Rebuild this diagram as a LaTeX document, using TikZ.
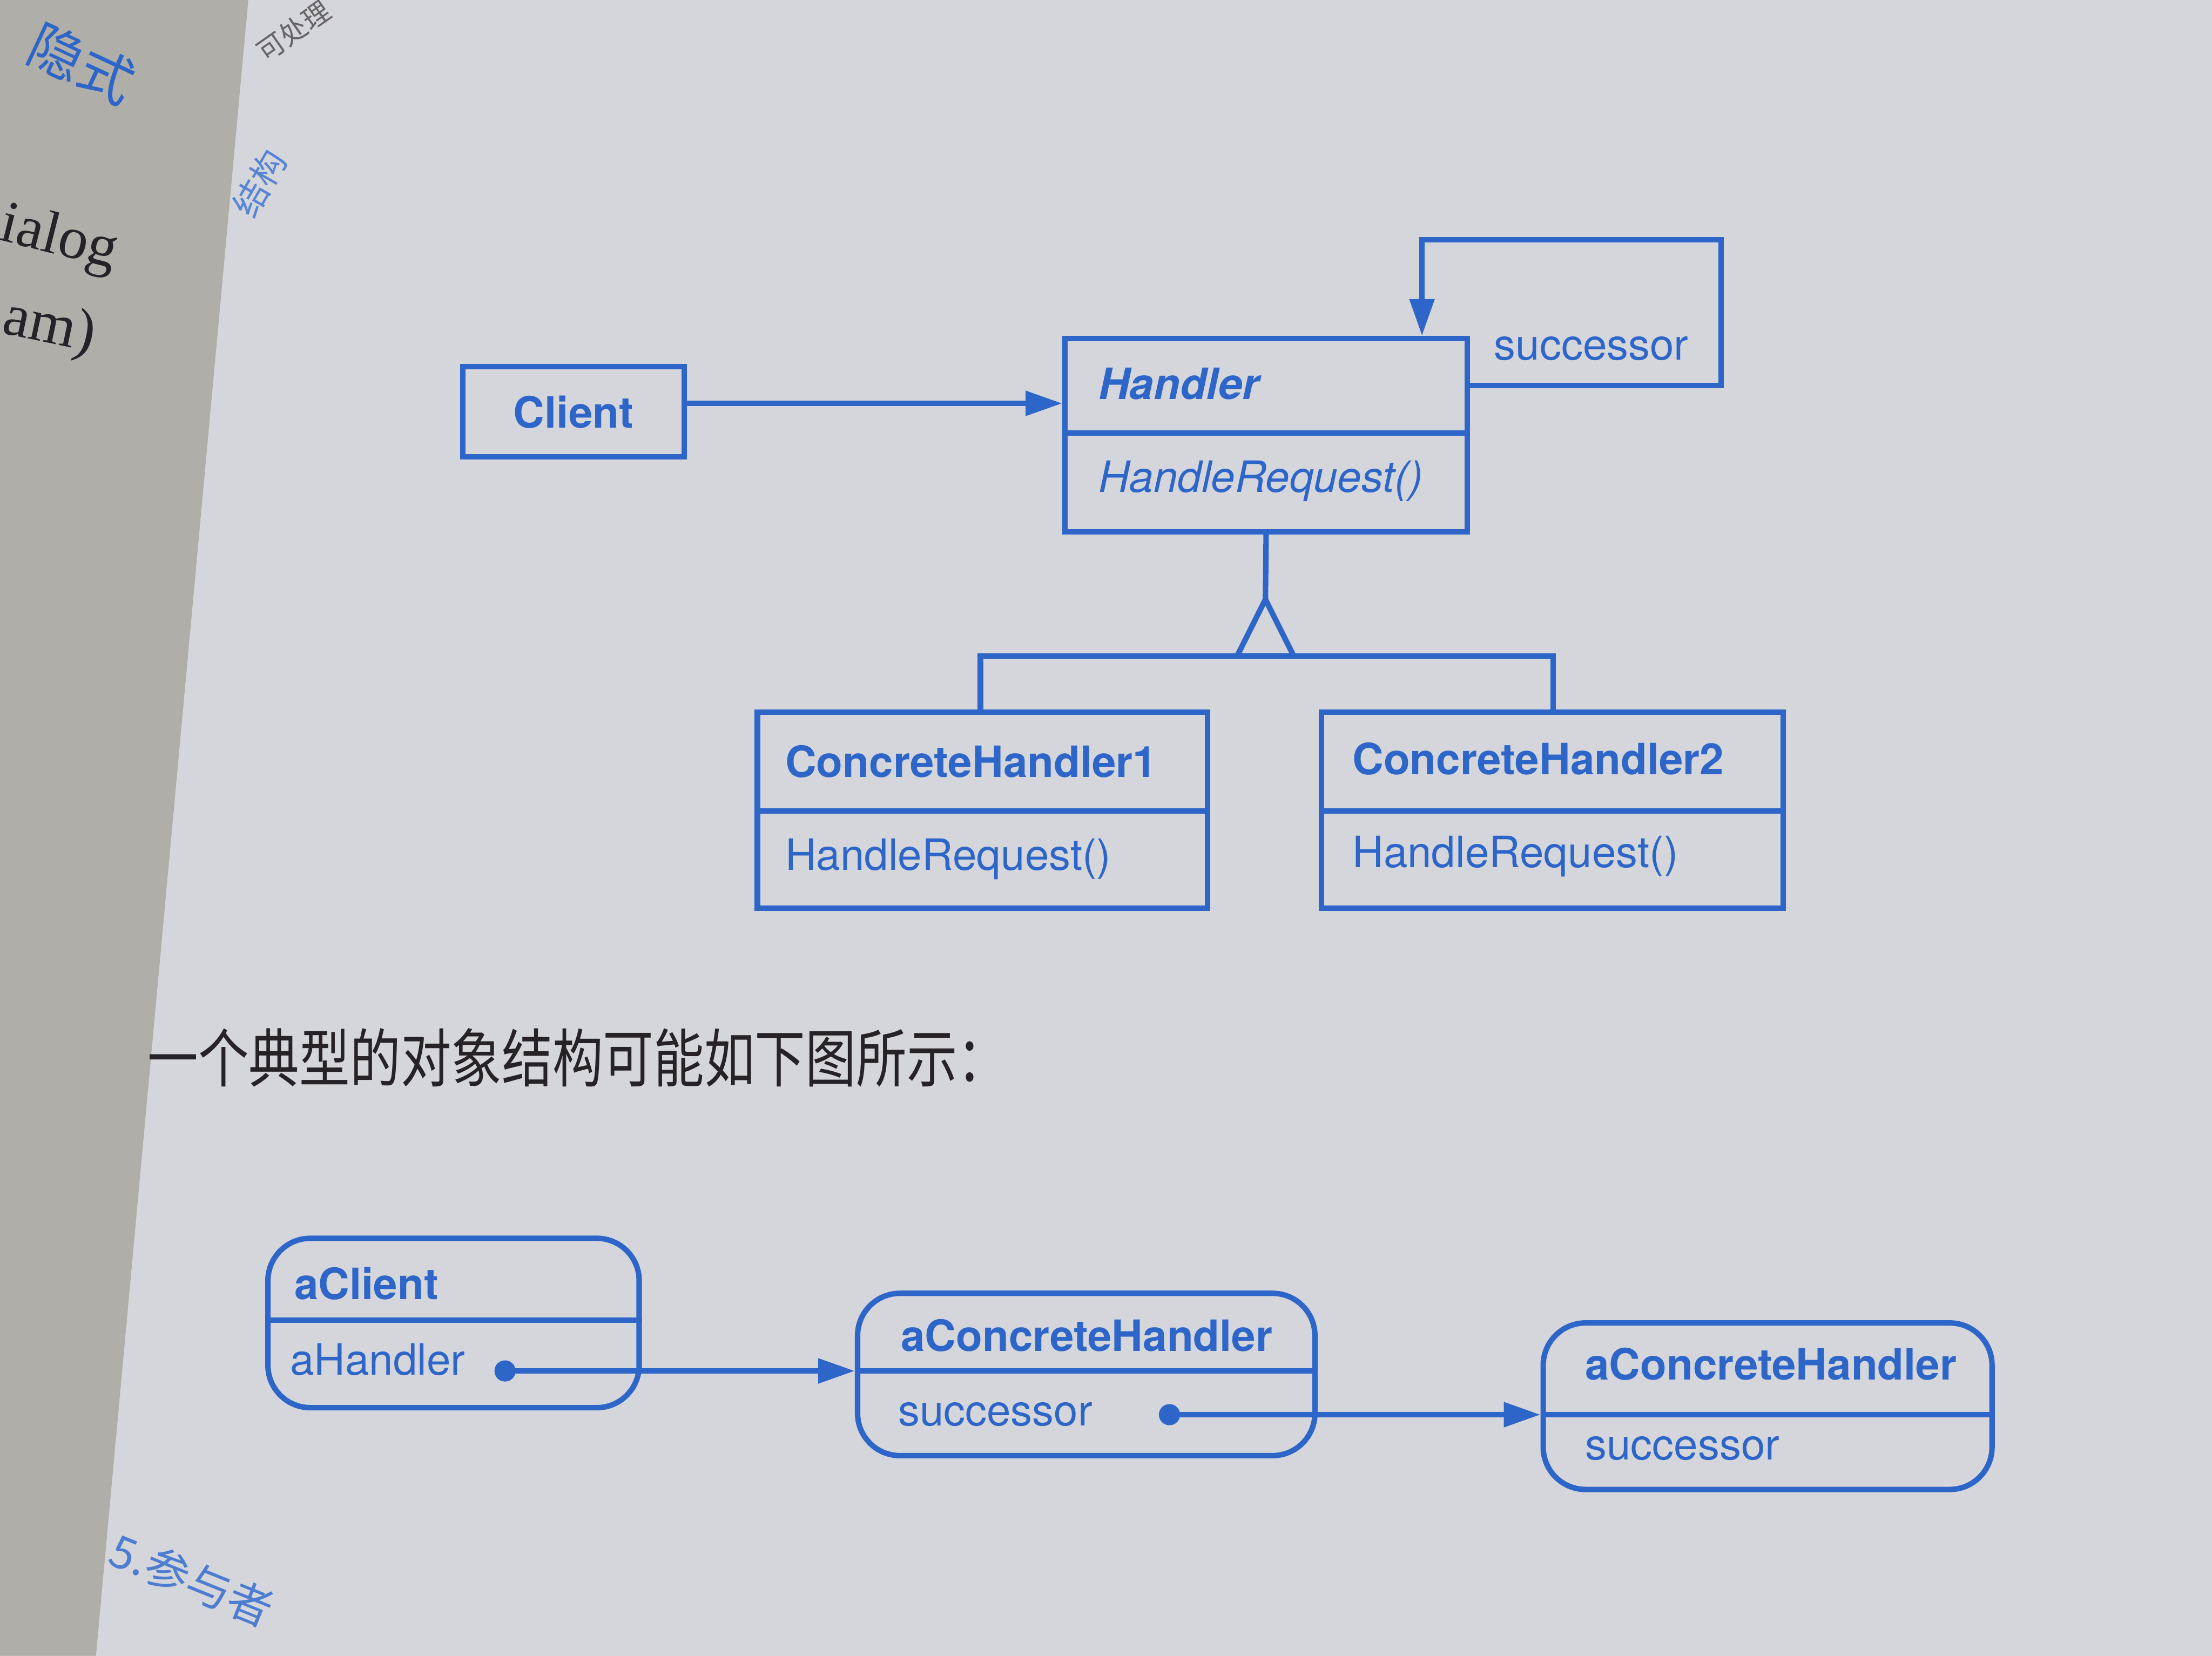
\documentclass[tikz,border=0pt]{standalone}
\usepackage{fontspec}
\newfontfamily\hv{TeX Gyre Heros}
\newfontfamily\cjk{Noto Sans CJK SC}
\newfontfamily\serifL{Liberation Serif}
\usetikzlibrary{arrows.meta,calc}
\definecolor{paper}{RGB}{212,214,219}
\definecolor{leftpage}{RGB}{176,174,168}
\definecolor{ink}{RGB}{45,102,200}
\definecolor{txt}{RGB}{38,34,40}
\begin{document}
\begin{tikzpicture}[x=0.01cm,y=-0.01cm,
  cls/.style={draw=ink, line width=1.1pt, inner sep=0pt, rectangle},
  obj/.style={draw=ink, line width=1.1pt, inner sep=0pt, rounded corners=0.3cm},
  conn/.style={draw=ink, line width=1.1pt},
  arr/.style={conn, -{Triangle[length=0.26cm,width=0.17cm]}},
  lbl/.style={text=ink, inner sep=0pt, anchor=west, font=\hv\fontsize{8.7}{10}\selectfont},
  lblb/.style={lbl, font=\hv\bfseries\fontsize{8.7}{10}\selectfont},
  lbli/.style={lbl, font=\hv\itshape\fontsize{8.7}{10}\selectfont},
  lblbi/.style={lbl, font=\hv\bfseries\itshape\fontsize{8.7}{10}\selectfont},
  dotst/.style={circle, fill=ink, inner sep=0pt, minimum size=0.15cm},
]
% page background
\fill[paper] (0,0) rectangle (1568,1174);
\useasboundingbox (0,0) rectangle (1568,1174);
\fill[leftpage] (0,0) -- (176,0) -- (68,1174) -- (0,1174) -- cycle;

% left page fragments
\node[font=\cjk\fontsize{11}{12}\selectfont, text=ink, rotate=-25] (lp1) at (58,45) {隐式};
\node[font=\serifL\fontsize{12}{14}\selectfont, text=txt, rotate=-14, anchor=west, inner sep=0pt] (lp2) at (0,160) {ialog};
\node[font=\serifL\fontsize{12}{14}\selectfont, text=txt, rotate=-12, anchor=west, inner sep=0pt] (lp3) at (2,226) {am)};

% right page fragments
\node[font=\cjk\fontsize{5.5}{7}\selectfont, text=txt!70, rotate=35, inner sep=0pt] (rp1) at (208,22) {可处理};
\node[font=\cjk\fontsize{7}{8}\selectfont, text=ink!80, rotate=60, inner sep=0pt] (rp2) at (184,130) {结构};
\node[font=\cjk\fontsize{9}{10}\selectfont, text=ink!85, rotate=-22, inner sep=0pt] (rp3) at (136,1120) {5.参与者};

% ---------- class diagram ----------
\node[cls, minimum width=1.57cm, minimum height=0.64cm, text=ink,
      font=\hv\bfseries\fontsize{8.7}{10}\selectfont] (client) at (406.5,292) {Client};

\node[cls, minimum width=2.85cm, minimum height=0.67cm] (htop) at (897.5,273.5) {};
\node[cls, minimum width=2.85cm, minimum height=0.70cm] (hbot) at (897.5,342) {};
\node[lblbi] (hname) at (778,272) {Handler};
\node[lbli] (hop) at (778,341) {HandleRequest()};

\draw[arr] ([yshift=0.06cm]client.east) -- ([yshift=0.06cm]client.east -| htop.west);

% successor self loop
\coordinate (loopr) at (1220,170);
\coordinate (loopl) at (1008,170);
\draw[arr] (htop.east) -| (loopr) -- (loopl) -- (loopl |- htop.north);
\node[lbl, anchor=center] (succ) at (1128,247) {successor};

% concrete handlers
\node[cls, minimum width=3.19cm, minimum height=0.70cm] (c1top) at (696.5,540) {};
\node[cls, minimum width=3.19cm, minimum height=0.69cm] (c1bot) at (696.5,609.5) {};
\node[lblb] (c1name) at (556,540) {ConcreteHandler1};
\node[lbl] (c1op) at (556,609) {HandleRequest()};

\node[cls, minimum width=3.27cm, minimum height=0.70cm] (c2top) at (1100.5,540) {};
\node[cls, minimum width=3.27cm, minimum height=0.69cm] (c2bot) at (1100.5,609.5) {};
\node[lblb] (c2name) at (958,538) {ConcreteHandler2};
\node[lbl] (c2op) at (958,607) {HandleRequest()};

% inheritance
\coordinate (apex) at (897,425);
\coordinate (tbase) at (897,465);
\draw[conn] (hbot.south) -- (apex);
\draw[conn, line join=miter] (apex) -- (877,465) -- (917,465) -- cycle;
\draw[conn] (c1top.north -| 695,0) |- (tbase) -| (c2top.north -| 1101,0);

% caption
\node[font=\cjk\fontsize{10.2}{12}\selectfont, text=txt, anchor=west, inner sep=0pt,
      yscale=1.25, transform shape] (cap) at (104,750) {一个典型的对象结构可能如下图所示：};

% ---------- object diagram ----------
\node[obj, minimum width=2.63cm, minimum height=1.20cm] (acl) at (321.5,938) {};
\draw[conn] (acl.west |- 0,936) -- (acl.east |- 0,936);
\node[lblb] (aclname) at (208,910) {aClient};
\node[lbl] (aclh) at (205,964) {aHandler};
\node[dotst] (d1) at (358,972) {};

\node[obj, minimum width=3.24cm, minimum height=1.15cm] (ach1) at (770,974.5) {};
\draw[conn] (ach1.west |- 0,972) -- (ach1.east |- 0,972);
\node[lblb] (ach1name) at (638,947) {aConcreteHandler};
\node[lbl] (ach1s) at (636,1003) {successor};
\node[dotst] (d2) at (829,1003) {};

\node[obj, minimum width=3.18cm, minimum height=1.18cm] (ach2) at (1253,997) {};
\draw[conn] (ach2.west |- 0,1003) -- (ach2.east |- 0,1003);
\node[lblb] (ach2name) at (1123,967) {aConcreteHandler};
\node[lbl] (ach2s) at (1123,1027) {successor};

\draw[arr] (d1.center) -- (d1 -| ach1.west);
\draw[arr] (d2.center) -- (d2 -| ach2.west);
\end{tikzpicture}
\end{document}
